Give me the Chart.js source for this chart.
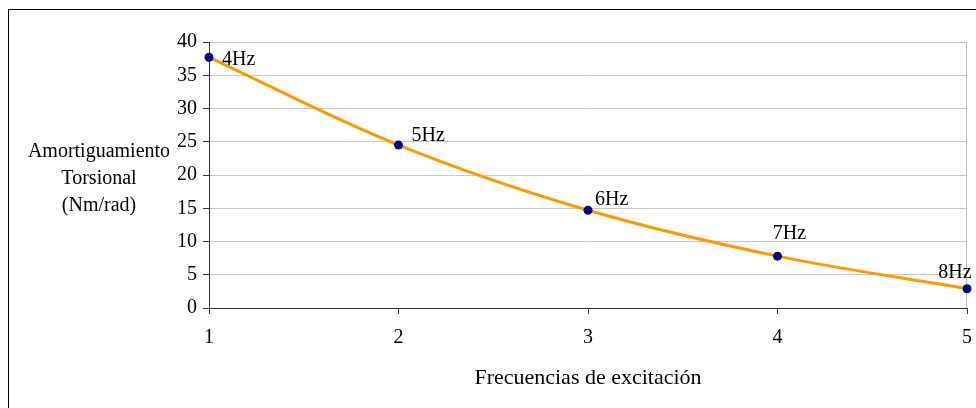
<!DOCTYPE html>
<html>
<head>
<meta charset="utf-8">
<script src="https://cdn.jsdelivr.net/npm/chart.js@4/dist/chart.umd.min.js"></script>
<style>
  html, body { margin: 0; padding: 0; background: #fff; }
  #wrap { position: relative; width: 976px; height: 408px; overflow: hidden; }
  canvas { position: absolute; left: 0; top: 0; }
</style>
</head>
<body>
<div id="wrap"><canvas id="c" width="976" height="408"></canvas></div>
<script>
// Torsional damping measured at each excitation frequency
const positions = [1, 2, 3, 4, 5];
const damping = [37.7, 24.5, 14.7, 7.8, 2.9];
const pointLabels = ['4Hz', '5Hz', '6Hz', '7Hz', '8Hz'];
const yTitleLines = ['Amortiguamiento', 'Torsional', '(Nm/rad)'];
const xTitle = 'Frecuencias de excitación';

const FONT = '"Liberation Serif", "Times New Roman", serif';

// Offsets (px) of each point label relative to its marker, and its alignment
const labelPlacement = [
  { dx: 13, dy: 2, align: 'left' },
  { dx: 13, dy: -9, align: 'left' },
  { dx: 7, dy: -10, align: 'left' },
  { dx: 12, dy: -22, align: 'center' },
  { dx: -12, dy: -16, align: 'center' }
];

const decorations = {
  id: 'decorations',
  beforeDraw(chart) {
    const ctx = chart.ctx;
    ctx.save();
    ctx.fillStyle = '#fff';
    ctx.fillRect(0, 0, chart.width, chart.height);
    // outer frame
    ctx.strokeStyle = '#000';
    ctx.lineWidth = 1;
    ctx.strokeRect(8.5, 9.5, 1200, 600);
    ctx.restore();
  },
  beforeDatasetsDraw(chart) {
    const ctx = chart.ctx;
    const a = chart.chartArea;
    ctx.save();
    ctx.strokeStyle = '#bdbdbd';
    ctx.lineWidth = 1;
    ctx.beginPath();
    ctx.moveTo(Math.round(a.right) - 0.5, a.top);
    ctx.lineTo(Math.round(a.right) - 0.5, a.bottom);
    ctx.stroke();
    ctx.restore();
  },
  afterDraw(chart) {
    const ctx = chart.ctx;
    ctx.save();
    ctx.fillStyle = '#000';
    ctx.font = '20px ' + FONT;
    ctx.textBaseline = 'middle';
    // horizontal y-axis title
    ctx.textAlign = 'center';
    yTitleLines.forEach((t, i) => ctx.fillText(t, 99, 152 + i * 27));
    // point labels
    const meta = chart.getDatasetMeta(0);
    meta.data.forEach((pt, i) => {
      const p = labelPlacement[i];
      ctx.textAlign = p.align;
      ctx.fillText(pointLabels[i], pt.x + p.dx, pt.y + p.dy);
    });
    ctx.restore();
  }
};

new Chart(document.getElementById('c'), {
  type: 'line',
  data: {
    datasets: [{
      data: positions.map((x, i) => ({ x, y: damping[i] })),
      borderColor: '#FF9900',
      borderWidth: 3,
      tension: 0.35,
      cubicInterpolationMode: 'default',
      pointRadius: 4.5,
      pointBackgroundColor: '#000080',
      pointBorderColor: '#000080',
      pointBorderWidth: 0,
      fill: false,
      clip: false
    }]
  },
  options: {
    responsive: false,
    animation: false,
    devicePixelRatio: 1,
    layout: { padding: { left: 0, top: 42, right: 9, bottom: 0 } },
    plugins: { legend: { display: false }, tooltip: { enabled: false } },
    scales: {
      x: {
        type: 'linear',
        min: 1, max: 5,
        ticks: { stepSize: 1, color: '#000', padding: 12, font: { family: FONT, size: 20 } },
        grid: { drawOnChartArea: false, drawTicks: true, tickLength: 6, tickColor: '#333' },
        border: { color: '#333', width: 1 },
        title: {
          display: true, text: xTitle, color: '#000',
          font: { family: FONT, size: 22 },
          padding: { top: 0, bottom: 17 }
        },
        afterFit(scale) {
          scale.height = 100;
          scale.paddingLeft = 0;
          scale.paddingRight = 0;
        }
      },
      y: {
        min: 0, max: 40,
        ticks: { stepSize: 5, color: '#000', padding: 6, font: { family: FONT, size: 20 } },
        grid: { color: '#c8c8c8', tickColor: '#333', tickLength: 6 },
        border: { color: '#333', width: 1 },
        afterFit(scale) { scale.width = 209; }
      }
    }
  },
  plugins: [decorations]
});
</script>
</body>
</html>
